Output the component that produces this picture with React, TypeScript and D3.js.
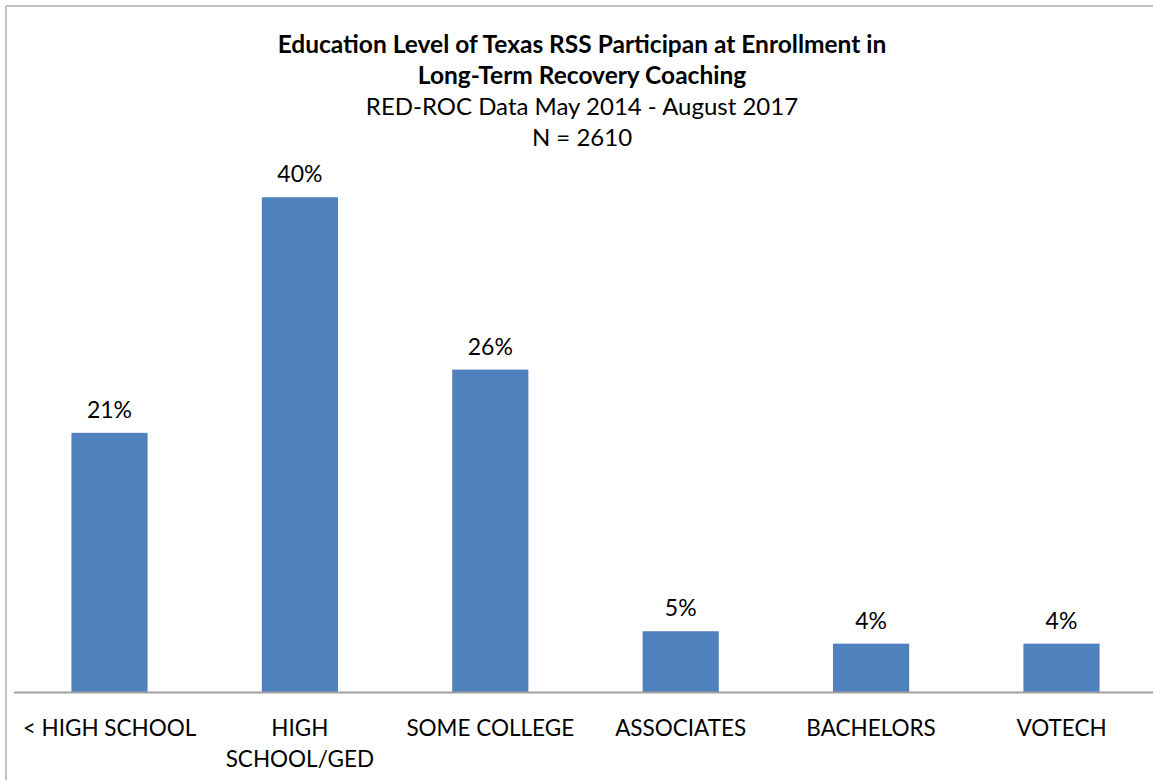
import React from "react";
import * as d3 from "d3";

const categories = ["< HIGH SCHOOL", "HIGH SCHOOL/GED", "SOME COLLEGE", "ASSOCIATES", "BACHELORS", "VOTECH"];
const categoryLines = [["< HIGH SCHOOL"], ["HIGH", "SCHOOL/GED"], ["SOME COLLEGE"], ["ASSOCIATES"], ["BACHELORS"], ["VOTECH"]];
const values = [20.9, 39.9, 26.0, 4.9, 3.9, 3.9];
const valueLabels = ["21%", "40%", "26%", "5%", "4%", "4%"];
const titleLines = ["Education Level of Texas RSS Participan at Enrollment in", "Long-Term Recovery Coaching"];
const subtitleLines = ["RED-ROC Data May 2014 - August 2017", "N = 2610"];

const W = 1153;
const H = 780;
const FONT = "Lato, 'Open Sans', sans-serif";

export default function App() {
  const x = d3.scaleBand<string>().domain(categories).range([14.3, 1156.7]).paddingInner(0.6).paddingOuter(0.3);
  const y = d3.scaleLinear().domain([0, 45]).range([692, 134]);
  const cx = 582;
  return (
    <svg width={W} height={H} style={{ position: "absolute", left: 0, top: 0, background: "#fff" }}>
      <rect x={0} y={0} width={W} height={H} fill="#fff" />
      <line x1={6} y1={6} x2={W} y2={6} stroke="#c0c0c0" strokeWidth={2} />
      <line x1={6} y1={6} x2={6} y2={H} stroke="#c0c0c0" strokeWidth={2} />
      {titleLines.map((t, i) => (
        <text key={t} x={cx} y={53 + i * 31} textAnchor="middle" fontFamily={FONT} fontWeight="bold" fontSize={24.5} fill="#000">{t}</text>
      ))}
      {subtitleLines.map((t, i) => (
        <text key={t} x={cx} y={115 + i * 31} textAnchor="middle" fontFamily={FONT} fontSize={24} fill="#000">{t}</text>
      ))}
      {categories.map((c, i) => (
        <rect key={c} x={x(c)} y={y(values[i])} width={x.bandwidth()} height={y(0) - y(values[i])} fill="#4f81bd" />
      ))}
      {categories.map((c, i) => (
        <text key={c + "v"} x={(x(c) as number) + x.bandwidth() / 2} y={y(values[i]) - 15} textAnchor="middle" fontFamily={FONT} fontSize={23} fill="#000">{valueLabels[i]}</text>
      ))}
      <line x1={14} y1={692.5} x2={W} y2={692.5} stroke="#a0a0a0" strokeWidth={2} />
      {categories.map((c, i) => (
        <text key={c + "l"} textAnchor="middle" fontFamily={FONT} fontSize={22.5} fill="#000">
          {categoryLines[i].map((ln, j) => (
            <tspan key={ln} x={(x(c) as number) + x.bandwidth() / 2} y={736 + j * 31}>{ln}</tspan>
          ))}
        </text>
      ))}
    </svg>
  );
}
